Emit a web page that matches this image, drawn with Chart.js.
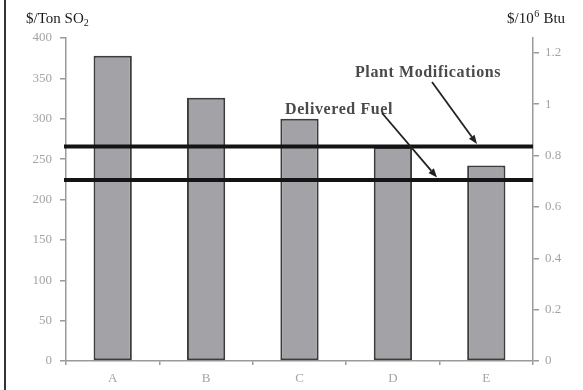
<!DOCTYPE html>
<html>
<head>
<meta charset="utf-8">
<script src="https://cdn.jsdelivr.net/npm/chart.js@4/dist/chart.umd.min.js"></script>
<style>
  html, body { margin: 0; padding: 0; background: #fff; }
  #wrap { width: 583px; height: 390px; position: relative; }
</style>
</head>
<body>
<div id="wrap"><canvas id="c" width="583" height="390"></canvas></div>
<script>
// ---- data ----
const categories = ['A', 'B', 'C', 'D', 'E'];
const costPerTon = [378, 326, 300, 265, 242];          // $/Ton SO2 (left axis)
const leftTicks = [0, 50, 100, 150, 200, 250, 300, 350, 400];
const rightTicks = [0, 0.2, 0.4, 0.6, 0.8, 1, 1.2];     // $/10^6 Btu (right axis)
const refLineNames = ['Plant Modifications', 'Delivered Fuel'];
const refLineValues = [0.835, 0.705];                   // $/10^6 Btu

const SERIF = '"Liberation Serif", "DejaVu Serif", serif';
const AXIS_COLOR = '#9a9a9a';
const TICK_TEXT = '#a4a4a4';

const overlay = {
  id: 'overlay',
  beforeDraw(chart) {
    const ctx = chart.ctx;
    ctx.save();
    ctx.fillStyle = '#fff';
    ctx.fillRect(0, 0, chart.width, chart.height);
    ctx.restore();
  },
  afterDatasetsDraw(chart) {
    const ctx = chart.ctx;
    const area = chart.chartArea;
    const y2 = chart.scales.y2;
    ctx.save();
    // reference lines
    const ys = refLineValues.map(v => y2.getPixelForValue(v));
    ctx.strokeStyle = '#141414';
    ctx.lineWidth = 4;
    ys.forEach(y => {
      ctx.beginPath();
      ctx.moveTo(area.left - 2, y);
      ctx.lineTo(area.right, y);
      ctx.stroke();
    });
    // annotations
    ctx.fillStyle = '#4a4a4a';
    ctx.font = 'bold 16px ' + SERIF;
    ctx.textBaseline = 'middle';
    ctx.textAlign = 'left';
    ctx.letterSpacing = '0.6px';
    ctx.fillText(refLineNames[0], 355, 73);
    ctx.fillText(refLineNames[1], 285, 110);
    ctx.letterSpacing = '0px';

    function arrow(x0, y0, x1, y1) {
      ctx.strokeStyle = '#222';
      ctx.fillStyle = '#222';
      ctx.lineWidth = 1.8;
      const ang = Math.atan2(y1 - y0, x1 - x0);
      const hl = 9, hw = 3.5;
      const bx = x1 - hl * Math.cos(ang), by = y1 - hl * Math.sin(ang);
      ctx.beginPath();
      ctx.moveTo(x0, y0);
      ctx.lineTo(bx, by);
      ctx.stroke();
      ctx.beginPath();
      ctx.moveTo(x1, y1);
      ctx.lineTo(bx + hw * Math.sin(ang), by - hw * Math.cos(ang));
      ctx.lineTo(bx - hw * Math.sin(ang), by + hw * Math.cos(ang));
      ctx.closePath();
      ctx.fill();
    }
    arrow(432, 82, 477, ys[0] - 2.5);
    arrow(382, 113, 437, ys[1] - 2.5);

    // axis titles
    ctx.fillStyle = '#1a1a1a';
    ctx.font = '15px ' + SERIF;
    ctx.textBaseline = 'alphabetic';
    ctx.fillText('$/Ton SO', 26, 23);
    let w = ctx.measureText('$/Ton SO').width;
    ctx.font = '10px ' + SERIF;
    ctx.fillText('2', 26 + w, 26);

    ctx.font = '15px ' + SERIF;
    const p1 = '$/10';
    ctx.fillText(p1, 507, 23);
    let x = 507 + ctx.measureText(p1).width;
    ctx.font = '10px ' + SERIF;
    ctx.fillText('6', x + 0.5, 17);
    x += ctx.measureText('6').width + 1;
    ctx.font = '15px ' + SERIF;
    ctx.fillText(' Btu', x, 23);

    // left frame line
    ctx.strokeStyle = '#333';
    ctx.lineWidth = 2;
    ctx.beginPath();
    ctx.moveTo(5, 0);
    ctx.lineTo(5, chart.height);
    ctx.stroke();
    ctx.restore();
  }
};

new Chart(document.getElementById('c'), {
  type: 'bar',
  data: {
    labels: categories,
    datasets: [{
      label: '$/Ton SO2',
      data: costPerTon,
      yAxisID: 'y',
      backgroundColor: '#a3a3a7',
      borderColor: '#3c3c3c',
      borderWidth: 2,
      borderSkipped: false,
      categoryPercentage: 1,
      barPercentage: 0.41
    }]
  },
  options: {
    responsive: false,
    animation: false,
    devicePixelRatio: 1,
    layout: { padding: { top: 38, left: 0, right: 0, bottom: 0 } },
    plugins: { legend: { display: false }, tooltip: { enabled: false } },
    scales: {
      x: {
        type: 'category',
        offset: true,
        grid: { display: true, offset: true, drawOnChartArea: false, drawTicks: true, tickLength: 4, color: AXIS_COLOR, lineWidth: 1.5 },
        border: { color: AXIS_COLOR, width: 1.5 },
        ticks: { color: TICK_TEXT, font: { family: SERIF, size: 13 }, padding: 6 },
        afterFit(s) { s.height = 29; }
      },
      y: {
        position: 'left',
        min: leftTicks[0],
        max: leftTicks[leftTicks.length - 1],
        afterBuildTicks(s) { s.ticks = leftTicks.map(v => ({ value: v })); },
        grid: { drawOnChartArea: false, drawTicks: true, tickLength: 6, color: AXIS_COLOR, lineWidth: 1.5 },
        border: { color: AXIS_COLOR, width: 1.5 },
        ticks: { color: TICK_TEXT, font: { family: SERIF, size: 13 }, padding: 8, callback: v => String(v) },
        afterFit(s) { s.width = 66; }
      },
      y2: {
        position: 'right',
        min: 0,
        max: 1.258,
        afterBuildTicks(s) { s.ticks = rightTicks.map(v => ({ value: v })); },
        grid: { drawOnChartArea: false, drawTicks: true, tickLength: 6, color: AXIS_COLOR, lineWidth: 1.5 },
        border: { color: AXIS_COLOR, width: 1.5 },
        ticks: { color: TICK_TEXT, font: { family: SERIF, size: 13 }, padding: 6, callback: v => String(Math.round(v * 10) / 10) },
        afterFit(s) { s.width = 50; }
      }
    }
  },
  plugins: [overlay]
});
</script>
</body>
</html>
